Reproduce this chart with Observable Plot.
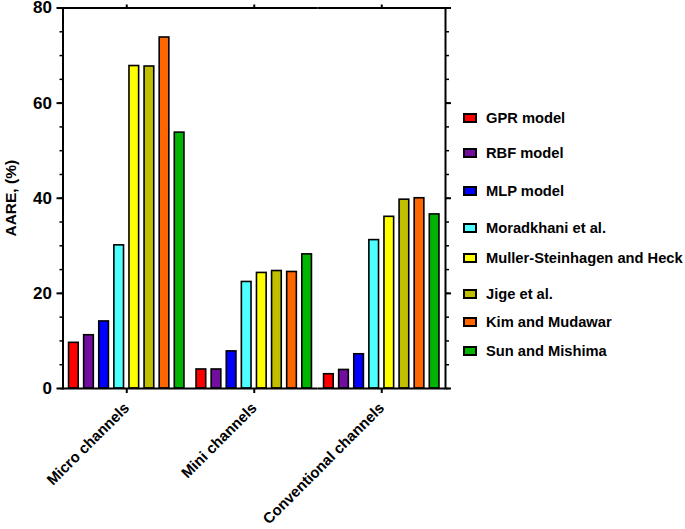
<!DOCTYPE html>
<html><head><meta charset="utf-8">
<script src="https://cdn.jsdelivr.net/npm/d3@7"></script>
<script src="https://cdn.jsdelivr.net/npm/@observablehq/plot@0.6"></script>
<style>
body{margin:0;background:#fff;font-family:"Liberation Sans",Arial,sans-serif;}
#wrap{position:relative;width:685px;height:529px;overflow:hidden;}
#chart{position:absolute;left:0;top:0;}
#legend{position:absolute;left:0;top:0;font-weight:bold;font-size:14.7px;color:#000;}
.item{position:absolute;left:463px;display:flex;align-items:center;white-space:nowrap;height:14px;}
.sw{box-sizing:border-box;width:14px;height:10px;border:2px solid #000;margin-right:9px;}
</style></head><body>
<div id="wrap"><div id="chart"></div><div id="legend"></div></div>
<script>
const groups = ["Micro channels", "Mini channels", "Conventional channels"];
const models = ["GPR model", "RBF model", "MLP model", "Moradkhani et al.", "Muller-Steinhagen and Heck", "Jige et al.", "Kim and Mudawar", "Sun and Mishima"];
const colors = ["#ff0000", "#720e9e", "#0000ff", "#4dffff", "#ffff00", "#bfbf00", "#ff6600", "#00b400"];
const microValues = [9.6, 11.2, 14.1, 30.1, 67.8, 67.7, 73.8, 53.8];
const miniValues = [4.0, 4.0, 7.8, 22.4, 24.3, 24.7, 24.5, 28.2];
const conventionalValues = [3.0, 3.9, 7.2, 31.2, 36.1, 39.7, 40.0, 36.6];
const yTicks = [0, 20, 40, 60, 80];
const yMinorTicks = [0, 5, 10, 15, 20, 25, 30, 35, 40, 45, 50, 55, 60, 65, 70, 75, 80];
const yLabel = "AARE, (%)";

const seriesByGroup = [microValues, miniValues, conventionalValues];
const data = groups.flatMap((g, gi) => models.map((m, mi) => ({group: g, model: m, value: seriesByGroup[gi][mi]})));

const chart = Plot.plot({
  width: 455, height: 529,
  marginLeft: 62.5, marginRight: 10, marginTop: 7.5, marginBottom: 141,
  style: {fontFamily: "'Liberation Sans', Arial, sans-serif", fontWeight: "bold", color: "#000", background: "#fff", overflow: "visible"},
  fx: {domain: groups, padding: 0, round: false},
  x: {domain: models, paddingInner: 0.36, paddingOuter: 0.4, round: false, axis: null},
  y: {domain: [0, 80]},
  color: {domain: models, range: colors},
  marks: [
    Plot.barY(data, {fx: "group", x: "model", y: "value", fill: "model", stroke: "#000", strokeWidth: 1.6}),
    Plot.axisY(yMinorTicks, {anchor: "left", tickSize: 3, tickFormat: () => "", label: null, strokeWidth: 1.5}),
    Plot.axisY(yTicks, {anchor: "left", tickSize: 6, tickPadding: 5, fontSize: 17, label: null, strokeWidth: 2}),
    Plot.axisY([], {anchor: "left", tickSize: 0, fontSize: 15.5, label: yLabel, labelAnchor: "center", labelArrow: "none", labelOffset: 58}),
    Plot.axisY(yMinorTicks, {anchor: "right", tickSize: 3, tickFormat: () => "", label: null, strokeWidth: 1.5}),
    Plot.axisY(yTicks, {anchor: "right", tickSize: 5, tickFormat: () => "", label: null, strokeWidth: 2}),
    Plot.axisFx({anchor: "bottom", tickSize: 5, tickPadding: 12, tickRotate: -45, fontSize: 15, label: null, strokeWidth: 2}),
    Plot.axisFx({anchor: "top", tickSize: 4, tickFormat: () => "", label: null, strokeWidth: 2}),
    Plot.ruleY([0, 80], {stroke: "#000", strokeWidth: 2}),
    Plot.frame({anchor: "left", facetAnchor: "left", stroke: "#000", strokeWidth: 2}),
    Plot.frame({anchor: "right", facetAnchor: "right", stroke: "#000", strokeWidth: 2})
  ]
});
document.getElementById("chart").appendChild(chart);

const legendRowCenters = [118, 153, 191, 227.5, 258, 294, 322, 351];
const legend = document.getElementById("legend");
models.forEach((m, i) => {
  const item = document.createElement("div");
  item.className = "item";
  item.style.top = (legendRowCenters[i] - 7) + "px";
  const sw = document.createElement("div");
  sw.className = "sw";
  sw.style.background = colors[i];
  const t = document.createElement("span");
  t.textContent = m;
  item.appendChild(sw); item.appendChild(t);
  legend.appendChild(item);
});
</script>
</body></html>
